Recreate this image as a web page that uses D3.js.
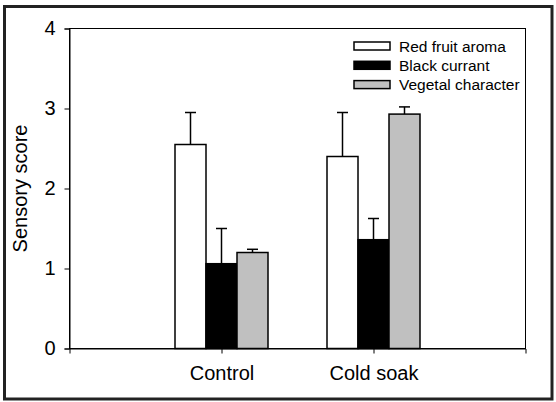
<!DOCTYPE html>
<html>
<head>
<meta charset="utf-8">
<script src="https://cdn.jsdelivr.net/npm/d3@7"></script>
<style>
  body { margin: 0; background: #fff; }
  svg { display: block; font-family: 'Liberation Sans', Arial, sans-serif; }
</style>
</head>
<body>
<div class="chart"></div>
<script>
'use strict';

const treatments = ['Control', 'Cold soak'];
const attributes = ['Red fruit aroma', 'Black currant', 'Vegetal character'];
const redFruit = [2.55, 2.40];
const blackCurrant = [1.06, 1.36];
const vegetal = [1.20, 2.93];
const redFruitErr = [0.40, 0.55];
const blackCurrantErr = [0.44, 0.265];
const vegetalErr = [0.04, 0.09];
const yTicks = [0, 1, 2, 3, 4];

const fills = ['#ffffff', '#000000', '#c0c0c0'];
const means = [redFruit, blackCurrant, vegetal];
const errs = [redFruitErr, blackCurrantErr, vegetalErr];

const W = 556, H = 402;
const margin = {top: 28.5, right: 30.5, bottom: 53.5, left: 69.5};
const width = W - margin.left - margin.right;
const height = H - margin.top - margin.bottom;

const svg = d3.select('.chart').append('svg')
    .attr('width', W)
    .attr('height', H);

// outer frame
svg.append('rect')
    .attr('x', 4.5).attr('y', 6.5)
    .attr('width', 547.5).attr('height', 392.5)
    .attr('fill', 'none')
    .attr('stroke', '#222')
    .attr('stroke-width', 3);

const g = svg.append('g')
    .attr('transform', 'translate(' + margin.left + ',' + margin.top + ')');

const x = d3.scalePoint().domain(treatments).range([0, width]).padding(1);
const inner = d3.scaleBand().domain(attributes).range([-46.5, 46.5]);
const y = d3.scaleLinear().domain([0, 4]).range([height, 0]);

// plot box
g.append('rect')
    .attr('width', width).attr('height', height)
    .attr('fill', 'none').attr('stroke', '#000').attr('stroke-width', 1);

const rows = [];
treatments.forEach((t, ti) => {
    attributes.forEach((a, ai) => {
        rows.push({t: t, a: a, i: ai, v: means[ai][ti], e: errs[ai][ti]});
    });
});

// error bars (upper only)
const eb = g.selectAll('.err').data(rows).enter().append('g').attr('class', 'err')
    .attr('transform', (d) => 'translate(' + (x(d.t) + inner(d.a) + inner.bandwidth() / 2) + ',0)');
eb.append('line')
    .attr('x1', 0).attr('x2', 0)
    .attr('y1', (d) => y(d.v)).attr('y2', (d) => y(d.v + d.e))
    .attr('stroke', '#000').attr('stroke-width', 1.5);
eb.append('line')
    .attr('x1', -5.5).attr('x2', 5.5)
    .attr('y1', (d) => y(d.v + d.e)).attr('y2', (d) => y(d.v + d.e))
    .attr('stroke', '#000').attr('stroke-width', 1.5);

g.selectAll('.bar').data(rows).enter().append('rect')
    .attr('class', 'bar')
    .attr('x', (d) => x(d.t) + inner(d.a))
    .attr('y', (d) => y(d.v))
    .attr('width', inner.bandwidth())
    .attr('height', (d) => y(0) - y(d.v))
    .attr('fill', (d) => fills[d.i])
    .attr('stroke', '#000')
    .attr('stroke-width', 1.5);

// axes
const yAxis = g.append('g')
    .call(d3.axisLeft(y).tickValues(yTicks).tickSize(5).tickPadding(9).tickFormat(d3.format('d')));
const xAxis = g.append('g')
    .attr('transform', 'translate(0,' + height + ')')
    .call(d3.axisBottom(x).tickSize(5).tickPadding(12));
[yAxis, xAxis].forEach((a) => {
    a.select('.domain').attr('stroke', '#000');
    a.selectAll('.tick line').attr('stroke', '#000');
    a.selectAll('.tick text').attr('fill', '#000').style('font-family', 'Liberation Sans, Arial, sans-serif');
});
yAxis.selectAll('.tick text').style('font-size', '20px');
xAxis.selectAll('.tick text').style('font-size', '20px');

svg.append('text')
    .attr('transform', 'translate(27,' + (margin.top + height / 2) + ') rotate(-90)')
    .attr('text-anchor', 'middle')
    .style('font-size', '20px')
    .text('Sensory score');

// legend
const legend = svg.append('g').attr('transform', 'translate(354,42)');
const li = legend.selectAll('.li').data(attributes).enter().append('g')
    .attr('transform', (d, i) => 'translate(0,' + (i * 19.3) + ')');
li.append('rect')
    .attr('width', 36).attr('height', 8)
    .attr('fill', (d, i) => fills[i])
    .attr('stroke', '#000').attr('stroke-width', 1.5);
li.append('text')
    .attr('x', 45).attr('y', 9.5)
    .style('font-size', '15.5px')
    .text((d) => d);
</script>
</body>
</html>
